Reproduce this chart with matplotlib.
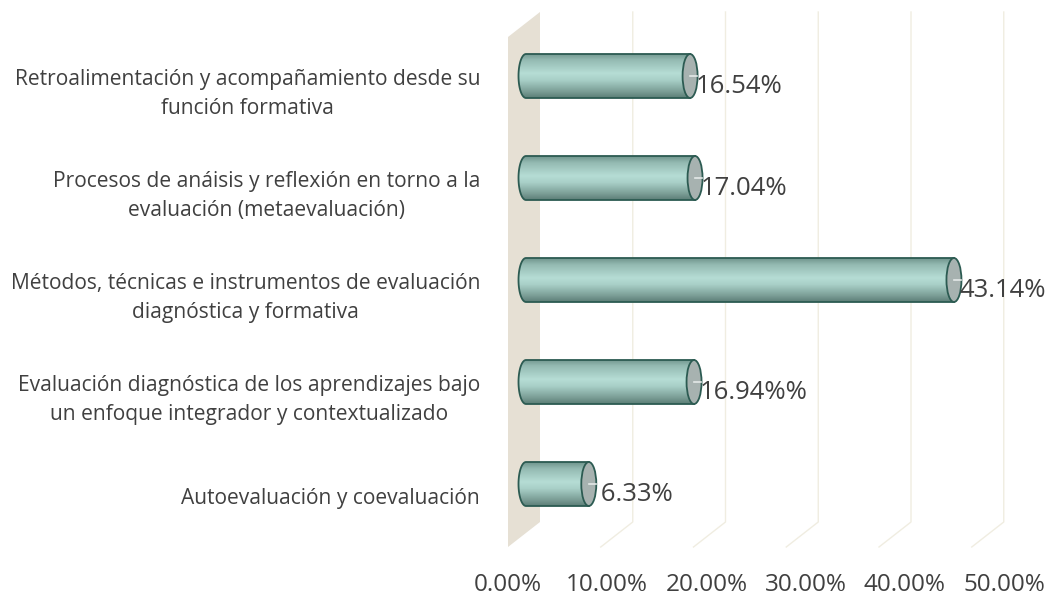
import numpy as np
import matplotlib
matplotlib.use('Agg')
import matplotlib.pyplot as plt
from matplotlib.path import Path
from matplotlib.patches import PathPatch, Ellipse, Polygon

# data (bottom to top)
categories = [
    'Autoevaluación y coevaluación',
    'Evaluación diagnóstica de los aprendizajes bajo\nun enfoque integrador y contextualizado',
    'Métodos, técnicas e instrumentos de evaluación\ndiagnóstica y formativa',
    'Procesos de anáisis y reflexión en torno a la\nevaluación (metaevaluación)',
    'Retroalimentación y acompañamiento desde su\nfunción formativa',
]
values = [6.33, 16.94, 43.14, 17.04, 16.54]
value_labels = [' 6.33%', '16.94%%', '43.14%', '17.04%', '16.54%']
xticks = [0, 10, 20, 30, 40, 50]

plt.rcParams['font.family'] = ['Open Sans', 'DejaVu Sans']
text_color = '#404040'

fig = plt.figure(figsize=(10.47, 5.97), dpi=100)
ax = fig.add_axes([508 / 1047, 50 / 597, 496 / 1047, 510 / 597])
ax.set_xlim(0, 50)
ax.set_ylim(-0.5, 4.5)

px_x = 496 / 50.0     # pixels per percent
px_y = 510 / 5.0      # pixels per category
depth_dx = 32 / px_x  # back plane offset
depth_dy = 25 / px_y
grid_scale = 0.935    # gridlines sit a bit tighter than the labels (3d perspective)

# side wall
wall = Polygon([(0, -0.5), (0, 4.5), (depth_dx, 4.5 + depth_dy), (depth_dx, -0.5 + depth_dy)],
               closed=True, facecolor='#e6e0d4', edgecolor='none', clip_on=False, zorder=1)
ax.add_patch(wall)

# gridlines (floor + back wall)
for v in xticks[1:]:
    g = v * grid_scale
    ax.plot([g, g + depth_dx, g + depth_dx], [-0.5, -0.5 + depth_dy, 4.5 + depth_dy],
            color='#f0ede1', lw=1.0, clip_on=False, zorder=1)

# cylinder bars
bar_x0 = 18 / px_x
bar_dy = 12 / px_y
h = 44 / px_y
rx = 7.5 / px_x

grad_colors = matplotlib.colors.LinearSegmentedColormap.from_list(
    'cyl', [(0.0, '#6f948c'), (0.15, '#94bab2'), (0.45, '#b6ddd5'),
            (0.6, '#a9d0c8'), (0.85, '#7c9f97'), (1.0, '#5b7d76')])
grad = np.linspace(0, 1, 256).reshape(-1, 1)

for i, (v, lab) in enumerate(zip(values, value_labels)):
    yc = i + bar_dy
    x0 = bar_x0
    x1 = bar_x0 + v
    t = np.linspace(np.pi / 2, 3 * np.pi / 2, 40)
    arc = np.column_stack([x0 + rx * np.cos(t), yc + h / 2 * np.sin(t)])
    verts = [(x1, yc - h / 2), (x1, yc + h / 2)] + [tuple(p) for p in arc] + [(x1, yc - h / 2)]
    codes = [Path.MOVETO] + [Path.LINETO] * (len(verts) - 2) + [Path.CLOSEPOLY]
    body = PathPatch(Path(verts, codes), facecolor='none', edgecolor='#2c5b52', lw=1.3, zorder=4)
    ax.add_patch(body)
    im = ax.imshow(grad, cmap=grad_colors, aspect='auto', extent=[x0 - rx, x1, yc - h / 2, yc + h / 2],
                   zorder=3, interpolation='bilinear')
    im.set_clip_path(body)
    cap = Ellipse((x1, yc), 2 * rx, h, facecolor='#a7b2b0', edgecolor='#2c5b52', lw=1.3, zorder=5)
    ax.add_patch(cap)
    ax.plot([x1, x1 + rx * 0.9], [yc, yc], color='#e4e9e8', lw=1.2, zorder=5.5)
    ax.text(x1 + rx * 0.7, yc - 0.1, lab, ha='left', va='center', fontsize=18.5, color=text_color, zorder=6)

ax.set_xticks(xticks)
ax.set_xticklabels([f'{v:.2f}%' for v in xticks], fontsize=17.5, color=text_color)
ax.set_yticks(range(len(categories)))
ax.set_yticklabels(categories, fontsize=15.1, color=text_color, multialignment='center',
                   linespacing=1.45)
ax.tick_params(axis='x', length=0, pad=19)
ax.tick_params(axis='y', length=0, pad=20)
for s in ax.spines.values():
    s.set_visible(False)
ax.set_facecolor('none')

fig.savefig('out.png', dpi=100, facecolor='white')
